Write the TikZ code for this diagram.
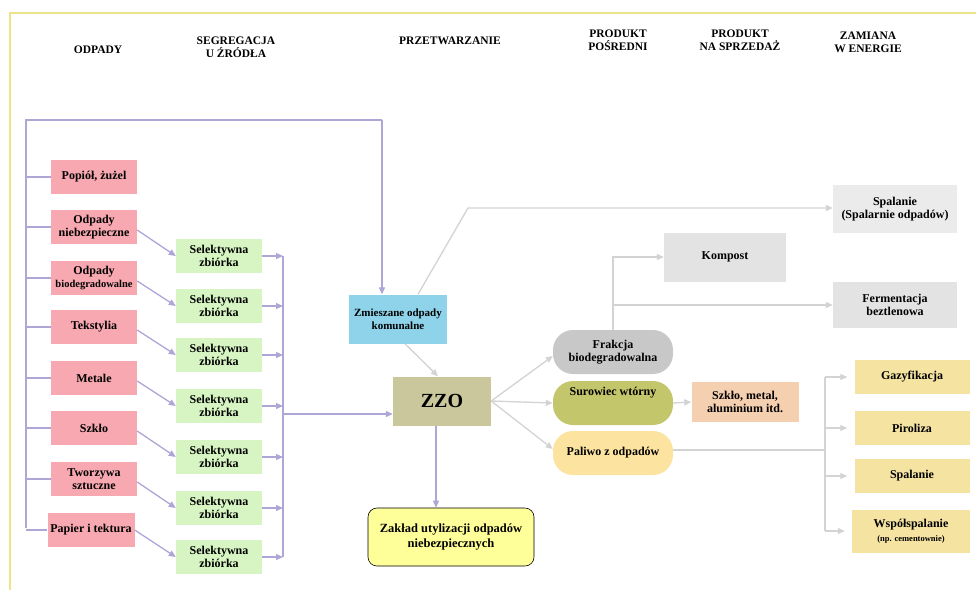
\documentclass[tikz,border=0pt]{standalone}
\usepackage{fontspec}
\setmainfont{Liberation Serif}
\usetikzlibrary{arrows.meta,calc}
\definecolor{framec}{HTML}{EDE38A}
\definecolor{pinkc}{HTML}{F7A8B0}
\definecolor{greenc}{HTML}{D7F5C2}
\definecolor{purpc}{HTML}{ADA6D6}
\definecolor{grayl}{HTML}{D3D3D3}
\definecolor{bluec}{HTML}{8FD3EA}
\definecolor{zzoc}{HTML}{C9C79B}
\definecolor{zakc}{HTML}{FFFF99}
\definecolor{spc}{HTML}{EBEBEB}
\definecolor{kpc}{HTML}{E3E3E3}
\definecolor{frc}{HTML}{C8C8C8}
\definecolor{suc}{HTML}{C4C66C}
\definecolor{pac}{HTML}{FCE4A0}
\definecolor{szc}{HTML}{F5D0B0}
\definecolor{yelc}{HTML}{F5E3A2}
\tikzset{
  base/.style={font=\fontsize{12}{13.5}\selectfont\bfseries, align=center, inner sep=0pt},
  hdr/.style={font=\fontsize{11.5}{13}\selectfont\bfseries, align=center, inner sep=0pt},
  redbox/.style={base, fill=pinkc, minimum width=86, minimum height=34},
  greenbox/.style={base, fill=greenc, minimum width=86, minimum height=34},
  pill/.style={base, minimum width=120, minimum height=44, rounded corners=20pt},
  yelbox/.style={base, fill=yelc, minimum width=115, minimum height=34},
  purp/.style={draw=purpc, line width=1.3pt},
  purparrow/.style={purp, -{Triangle[length=7pt,width=6pt]}},
  grayline/.style={draw=grayl, line width=1.3pt},
  grayarrow/.style={grayline, -{Triangle[length=7pt,width=6pt]}}
}
\begin{document}
\begin{tikzpicture}[x=1pt,y=-1pt]
\useasboundingbox (0,0) rectangle (976,590);
% frame
\draw[framec, line width=1.2pt] (976,13) -- (10,13) -- (10,590);
% headers
\node[hdr] (h1) at (98,50) {ODPADY};
\node[hdr] (h2) at (236,47) {SEGREGACJA\\U ŹRÓDŁA};
\node[hdr] (h3) at (450,41) {PRZETWARZANIE};
\node[hdr] (h4) at (618,40) {PRODUKT\\POŚREDNI};
\node[hdr] (h5) at (740,40) {PRODUKT\\NA SPRZEDAŻ};
\node[hdr] (h6) at (868,42) {ZAMIANA\\W ENERGIE};
% red boxes
\node[redbox] (r0) at (94,177) {Popiół, żużel};
\node[redbox] (r1) at (94,227) {Odpady\\niebezpieczne};
\node[redbox] (r2) at (94,278) {Odpady\\{\fontsize{10.5}{12}\selectfont biodegradowalne}};
\node[redbox] (r3) at (94,327) {Tekstylia};
\node[redbox] (r4) at (94,378) {Metale};
\node[redbox] (r5) at (94,428) {Szkło};
\node[redbox] (r6) at (94,479) {Tworzywa\\sztuczne};
\node[redbox, minimum width=87] (r7) at (91,530) {Papier i tektura};
% green boxes
\node[greenbox] (g1) at (219,256) {Selektywna\\zbiórka};
\node[greenbox] (g2) at (219,306) {Selektywna\\zbiórka};
\node[greenbox] (g3) at (219,355) {Selektywna\\zbiórka};
\node[greenbox] (g4) at (219,406) {Selektywna\\zbiórka};
\node[greenbox] (g5) at (219,457) {Selektywna\\zbiórka};
\node[greenbox] (g6) at (219,508) {Selektywna\\zbiórka};
\node[greenbox] (g7) at (219,557) {Selektywna\\zbiórka};
% middle
\node[base, fill=bluec, minimum width=98, minimum height=49, font=\fontsize{11}{13}\selectfont\bfseries] (zm) at (398,319) {Zmieszane odpady\\komunalne};
\node[base, fill=zzoc, minimum width=98, minimum height=49, font=\fontsize{20}{22}\selectfont\bfseries] (zzo) at (442,401) {ZZO};
\node[base, fill=zakc, draw=black, line width=0.6pt, rounded corners=9pt, minimum width=166, minimum height=58, font=\fontsize{12.5}{15}\selectfont\bfseries] (zak) at (451,537) {Zakład utylizacji odpadów\\niebezpiecznych};
% intermediate products
\node[pill, fill=frc] (fr) at (613,352) {Frakcja\\biodegradowalna};
\node[pill, fill=suc] (su) at (613,403) {Surowiec wtórny\\[9pt]};
\node[pill, fill=pac] (pa) at (613,453) {Paliwo z odpadów};
% products
\node[base, fill=szc, minimum width=107, minimum height=40] (sz) at (745,402) {Szkło, metal,\\aluminium itd.};
\node[base, fill=kpc, minimum width=122, minimum height=49] (kp) at (725,257) {Kompost};
\node[base, fill=spc, minimum width=124, minimum height=48] (sp) at (895,209) {Spalanie\\(Spalarnie odpadów)};
\node[base, fill=kpc, minimum width=124, minimum height=46] (fe) at (895,305) {Fermentacja\\beztlenowa};
% energy
\node[yelbox] (ga) at (912,377) {Gazyfikacja};
\node[yelbox] (pi) at (912,428) {Piroliza};
\node[yelbox] (sl) at (912,476) {Spalanie};
\node[yelbox, minimum width=118, minimum height=43] (ws) at (911,531) {Współspalanie\\{\fontsize{8.5}{10}\selectfont (np. cementownie)}};
% coordinates
\coordinate (ltop) at (26,120);
\coordinate (lbot) at (26,528);
\coordinate (zmin) at (382,120);
\coordinate (bustop) at (283,256);
\coordinate (busbot) at (283,557);
\coordinate (busmid) at (283,414);
\coordinate (bend1) at (468,208);
\coordinate (ebtop) at (825,377);
\coordinate (ebbot) at (825,531);
% left loop
\draw[purp] (lbot) -- (ltop) -- (zmin);
\draw[purparrow] (zmin) -- (zmin |- zm.north);
\foreach \r in {r0,r1,r2,r3,r4,r5,r6,r7} {
  \draw[purp] (\r.west -| ltop) -- (\r.west);
}
% red to green
\draw[purparrow] ([yshift=-3pt]r1.east) -- (g1.west);
\draw[purparrow] ([yshift=-3pt]r2.east) -- (g2.west);
\draw[purparrow] ([yshift=-3pt]r3.east) -- (g3.west);
\draw[purparrow] ([yshift=-3pt]r4.east) -- (g4.west);
\draw[purparrow] ([yshift=-3pt]r5.east) -- (g5.west);
\draw[purparrow] ([yshift=-3pt]r6.east) -- (g6.west);
\draw[purparrow] (r7.east) -- (g7.west);
% green to bus
\draw[purp] (bustop) -- (busbot);
\foreach \g in {g1,g2,g3,g4,g5,g6,g7} {
  \draw[purparrow] (\g.east) -- (\g.east -| bustop);
}
\draw[purparrow] (busmid) -- (busmid -| zzo.west);
% middle arrows
\draw[grayarrow] ([xshift=7pt]zm.south) -- ([xshift=-4pt]zzo.north);
\draw[purparrow] ([xshift=-6pt]zzo.south) -- ([xshift=-6pt]zzo.south |- zak.north);
\draw[grayarrow] ([xshift=20pt]zm.north) -- (bend1) -- (bend1 -| sp.west);
\draw[grayarrow] (zzo.east) -- ([yshift=-4pt]fr.west);
\draw[grayarrow] (zzo.east) -- (su.west);
\draw[grayarrow] (zzo.east) -- ([yshift=4pt]pa.west);
% frakcja branches
\draw[grayarrow] (fr.north) -- (fr.north |- kp.west) -- (kp.west);
\draw[grayarrow] (fr.north |- fe.west) -- (fe.west);
\draw[grayarrow] (su.east) -- (sz.west);
% paliwo to energy
\draw[grayline] ([yshift=3pt]pa.east) -- ([yshift=3pt]pa.east -| ebtop);
\draw[grayline] (ebtop) -- (ebbot);
\foreach \e in {ga,pi,sl,ws} {
  \draw[grayarrow, shorten >=7pt] (\e.west -| ebtop) -- (\e.west);
}
\end{tikzpicture}
\end{document}
